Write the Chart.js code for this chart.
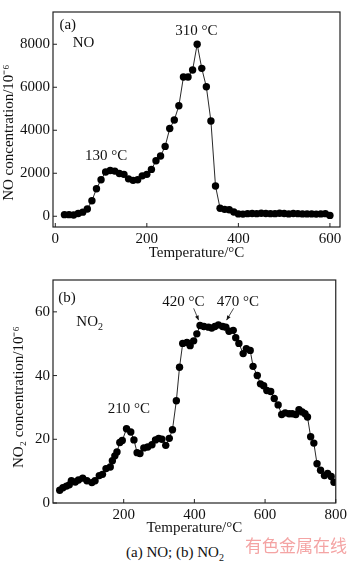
<!DOCTYPE html>
<html>
<head>
<meta charset="utf-8">
<script src="https://cdn.jsdelivr.net/npm/chart.js@4.4.1/dist/chart.umd.min.js"></script>
<style>
  html, body { margin: 0; padding: 0; background: #fff; }
  body { width: 350px; height: 563px; position: relative; overflow: hidden; }
  #noChart { position: absolute; left: 0; top: 0; }
  #no2Chart { position: absolute; left: 0; top: 268px; }
  .caption { position: absolute; left: 0; width: 350px; top: 545px; line-height: 15px; text-align: center;
    font-family: "Liberation Serif", serif; font-size: 15px; color: #111; }
  .mark { position: absolute; right: 3px; top: 536px; line-height: 17px; font-family: "Noto Sans CJK SC";
    font-size: 17px; color: #f4a4a4; }
</style>
</head>
<body>
<canvas id="noChart" width="350" height="262"></canvas>
<canvas id="no2Chart" width="350" height="270"></canvas>
<div class="caption">(a) NO; (b) NO<sub style="font-size:10px">2</sub></div>
<div class="mark">有色金属在线</div>
<script>
// (a) NO
const noTemps = [20, 30, 40, 50, 60, 70, 80, 90, 100, 110, 120, 130, 140, 150, 160, 170, 180, 190, 200,
  210, 220, 230, 240, 250, 260, 270, 280, 290, 300, 310, 320, 330, 340, 350, 360, 370, 380, 390, 400,
  410, 420, 430, 440, 450, 460, 470, 480, 490, 500, 510, 520, 530, 540, 550, 560, 570, 580, 590, 600];
const noValues = [75, 75, 60, 130, 190, 340, 720, 1280, 1700, 2060, 2130, 2100, 1990, 1950, 1740, 1670, 1700, 1880, 1950,
  2180, 2580, 2800, 3250, 4080, 4480, 5140, 6480, 6480, 6800, 8000, 6880, 6020, 4430, 1410, 370, 320, 300, 200, 110,
  100, 120, 130, 120, 140, 130, 120, 120, 140, 130, 110, 130, 120, 110, 110, 110, 100, 110, 120, 40];
const noXTicks = [0, 200, 400, 600];
const noYTicks = [0, 2000, 4000, 6000, 8000];

// (b) NO2
const no2Temps = [19, 28, 38, 46, 52, 63, 72, 84, 96, 110, 119, 131, 140, 150, 162, 168, 175, 181, 189, 196,
  208, 220, 229, 238, 246, 257, 268, 280, 290, 299, 308, 319, 329, 338, 349, 358, 367, 379, 388, 398,
  407, 416, 427, 440, 449, 458, 468, 480, 489, 498, 510, 517, 526, 538, 547, 558, 566, 578, 587, 596,
  605, 616, 626, 637, 647, 657, 668, 677, 687, 696, 705, 713, 720, 729, 738, 747, 757, 768, 777, 787, 795];
const no2Values = [4.0, 4.8, 5.3, 5.7, 7.0, 6.6, 7.2, 7.8, 7.0, 6.4, 7.0, 8.6, 9.0, 10.8, 11.3, 13.3, 14.8, 16.0, 19.0, 19.6,
  23.3, 22.3, 19.8, 15.8, 15.5, 17.3, 17.6, 18.3, 19.8, 20.3, 20.0, 18.1, 20.3, 23.0, 32.1, 42.6, 50.1, 50.4, 49.4, 50.9,
  53.1, 55.7, 55.4, 55.2, 54.9, 55.4, 55.9, 55.4, 55.2, 53.9, 54.2, 51.9, 50.1, 46.9, 48.4, 47.9, 42.9, 40.0, 37.4, 36.8,
  35.3, 35.0, 32.8, 30.8, 27.8, 28.3, 28.0, 28.0, 27.8, 29.3, 28.6, 28.0, 27.0, 20.8, 18.8, 12.3, 10.3, 8.6, 9.3, 8.3, 6.5];
const no2XTicks = [200, 400, 600, 800];
const no2YTicks = [0, 20, 40, 60];

// labels inside the plots, in data units
const noNotes = [
  { text: "(a)", x: 9, y: 8880, align: "left" },
  { text: "NO", x: 38, y: 8040, align: "left" },
  { text: "310 °C", x: 308, y: 8620 },
  { text: "130 °C", x: 111, y: 2780 }
];
const no2Notes = [
  { text: "(b)", x: 15, y: 64.2, align: "left" },
  { text: "NO", sub: "2", x: 66, y: 56.7, align: "left" },
  { text: "420 °C", x: 369, y: 63 },
  { text: "470 °C", x: 523, y: 63 },
  { text: "210 °C", x: 215, y: 29.6 }
];
const no2Arrows = [[398, 61.1, 412, 57.4], [511, 61.1, 491, 57.4]];

const serif = '"Liberation Serif", "Times New Roman", serif';
const pad = n => "\u00a0".repeat(n); // nudges the rotated y titles down a little

const framePlugin = {
  id: "frame",
  afterDatasetsDraw(chart, args, opts) {
    const { ctx, chartArea: a, scales } = chart;
    ctx.save();
    ctx.strokeStyle = "#222";
    ctx.lineWidth = 1.2;
    ctx.strokeRect(a.left, a.top, a.right - a.left, a.bottom - a.top);
    // inward ticks
    ctx.lineWidth = 1;
    ctx.beginPath();
    scales.x.ticks.forEach(t => {
      const px = scales.x.getPixelForValue(t.value);
      ctx.moveTo(px, a.bottom);
      ctx.lineTo(px, a.bottom - 4);
    });
    scales.y.ticks.forEach(t => {
      const py = scales.y.getPixelForValue(t.value);
      ctx.moveTo(a.left, py);
      ctx.lineTo(a.left + 4, py);
    });
    ctx.stroke();

    ctx.fillStyle = "#111";
    ctx.textBaseline = "middle";
    (opts.notes || []).forEach(n => {
      const px = scales.x.getPixelForValue(n.x);
      const py = scales.y.getPixelForValue(n.y);
      ctx.font = "15px " + serif;
      ctx.textAlign = n.align || "center";
      ctx.fillText(n.text, px, py);
      if (n.sub) {
        const w = ctx.measureText(n.text).width;
        ctx.font = "10px " + serif;
        ctx.textAlign = "left";
        ctx.fillText(n.sub, px + w, py + 5);
      }
    });

    (opts.arrows || []).forEach(([x0, y0, x1, y1]) => {
      const ax = scales.x.getPixelForValue(x0), ay = scales.y.getPixelForValue(y0);
      const bx = scales.x.getPixelForValue(x1), by = scales.y.getPixelForValue(y1);
      const ang = Math.atan2(by - ay, bx - ax);
      ctx.lineWidth = 0.8;
      ctx.beginPath();
      ctx.moveTo(ax, ay);
      ctx.lineTo(bx, by);
      ctx.stroke();
      ctx.beginPath();
      ctx.moveTo(bx, by);
      ctx.lineTo(bx - 5 * Math.cos(ang - 0.4), by - 5 * Math.sin(ang - 0.4));
      ctx.lineTo(bx - 5 * Math.cos(ang + 0.4), by - 5 * Math.sin(ang + 0.4));
      ctx.closePath();
      ctx.fill();
    });
    ctx.restore();
  }
};

function makeChart(id, cfg) {
  const font = { family: serif, size: 15 };
  return new Chart(document.getElementById(id), {
    type: "line",
    data: {
      datasets: [{
        data: cfg.temps.map((t, i) => ({ x: t, y: cfg.values[i] })),
        borderColor: "#111",
        borderWidth: 0.9,
        pointRadius: 3.7,
        pointBackgroundColor: "#000",
        pointBorderWidth: 0,
        tension: 0
      }]
    },
    options: {
      responsive: false,
      animation: false,
      layout: { padding: { top: cfg.padTop, right: 10, left: 0, bottom: 0 } },
      plugins: {
        legend: { display: false },
        tooltip: { enabled: false },
        frame: { notes: cfg.notes, arrows: cfg.arrows }
      },
      scales: {
        x: {
          type: "linear",
          min: cfg.xMin,
          max: cfg.xMax,
          afterBuildTicks: s => { s.ticks = cfg.xTicks.map(v => ({ value: v })); },
          afterFit: s => { s.height = cfg.xHeight; },
          grid: { display: false, drawTicks: false },
          border: { display: false },
          ticks: { font, color: "#111", padding: 3, maxRotation: 0, autoSkip: false, callback: v => String(v) },
          title: { display: true, text: "Temperature/°C", font, color: "#111", padding: { top: 0, bottom: cfg.xTitlePad } }
        },
        y: {
          min: cfg.yMin,
          max: cfg.yMax,
          afterBuildTicks: s => { s.ticks = cfg.yTicks.map(v => ({ value: v })); },
          afterFit: s => { s.width = 53; },
          grid: { display: false, drawTicks: false },
          border: { display: false },
          ticks: { font, color: "#111", padding: 3, callback: v => String(v) },
          title: { display: true, text: cfg.yTitle, font, color: "#111", padding: { top: cfg.yTitlePad, bottom: 0 } }
        }
      }
    },
    plugins: [framePlugin]
  });
}

makeChart("noChart", {
  temps: noTemps, values: noValues, xTicks: noXTicks, yTicks: noYTicks,
  xMin: -5, xMax: 622, yMin: -500, yMax: 9500,
  padTop: 1, xHeight: 35, xTitlePad: 0, yTitlePad: 0,
  yTitle: "NO concentration/10⁻⁶" + pad(7), notes: noNotes
});

makeChart("no2Chart", {
  temps: no2Temps, values: no2Values, xTicks: no2XTicks, yTicks: no2YTicks,
  xMin: 0, xMax: 800, yMin: 0, yMax: 70,
  padTop: 2, xHeight: 35, xTitlePad: 1, yTitlePad: 10,
  yTitle: "NO₂ concentration/10⁻⁶" + pad(3), notes: no2Notes, arrows: no2Arrows
});
</script>
</body>
</html>
